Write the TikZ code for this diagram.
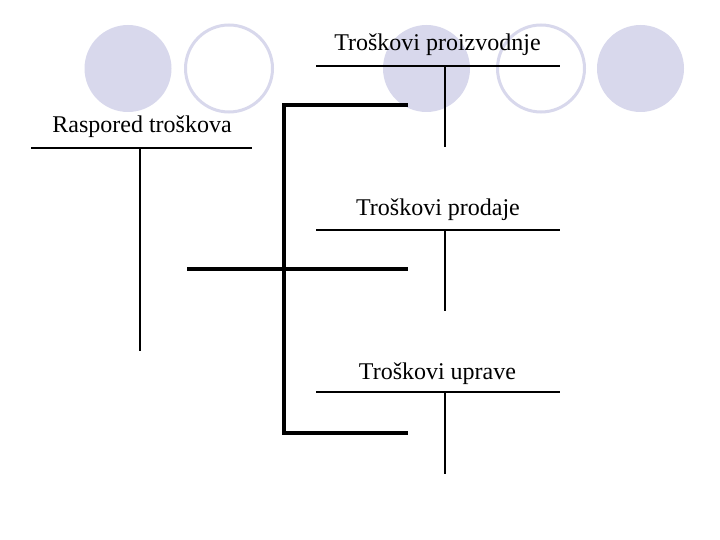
\documentclass[tikz,border=0pt]{standalone}
\usepackage{fontspec}
\setmainfont{Liberation Serif}
\definecolor{lav}{RGB}{216,216,236}
\begin{document}
\begin{tikzpicture}[x=1pt,y=-1pt,
  fullcirc/.style={fill=lav,draw=none},
  ringcirc/.style={draw=lav,line width=3pt,fill=white},
  label/.style={anchor=base,inner sep=0pt,font=\fontsize{24}{28}\selectfont},
  thin/.style={line width=2pt,black},
  thick/.style={line width=4pt,black,line join=miter}]
\useasboundingbox (0,0) rectangle (720,540);
% decorative circles
\fill[fullcirc] (128,68.5) circle (43.5);
\draw[ringcirc] (229,68.5) circle (43.5);
\fill[fullcirc] (426.5,68.5) circle (43.5);
\draw[ringcirc] (541,68.5) circle (43.5);
\fill[fullcirc] (640.5,68.5) circle (43.5);
% T-accounts
\node[label] (tp) at (437.5,51) {Troškovi proizvodnje};
\coordinate (tpL) at (316,66); \coordinate (tpR) at (560,66);
\coordinate (tpT) at (445,66); \coordinate (tpB) at (445,147);
\draw[thin] (tpL) -- (tpR); \draw[thin] (tpT) -- (tpB);

\node[label] (rt) at (142,133) {Raspored troškova};
\coordinate (rtL) at (31,148); \coordinate (rtR) at (252,148);
\coordinate (rtT) at (140,148); \coordinate (rtB) at (140,351);
\draw[thin] (rtL) -- (rtR); \draw[thin] (rtT) -- (rtB);

\node[label] (pr) at (438,215) {Troškovi prodaje};
\coordinate (prL) at (316,230); \coordinate (prR) at (560,230);
\coordinate (prT) at (445,230); \coordinate (prB) at (445,311);
\draw[thin] (prL) -- (prR); \draw[thin] (prT) -- (prB);

\node[label] (up) at (437.5,379) {Troškovi uprave};
\coordinate (upL) at (316,392); \coordinate (upR) at (560,392);
\coordinate (upT) at (445,392); \coordinate (upB) at (445,474);
\draw[thin] (upL) -- (upR); \draw[thin] (upT) -- (upB);
% bracket
\coordinate (b1) at (408,105); \coordinate (b2) at (284,433); \coordinate (b3) at (408,433);
\coordinate (m1) at (187,269); \coordinate (m2) at (408,269);
\draw[thick] (b1) -| (b2) -- (b3);
\draw[thick] (m1) -- (m2);
\end{tikzpicture}
\end{document}
